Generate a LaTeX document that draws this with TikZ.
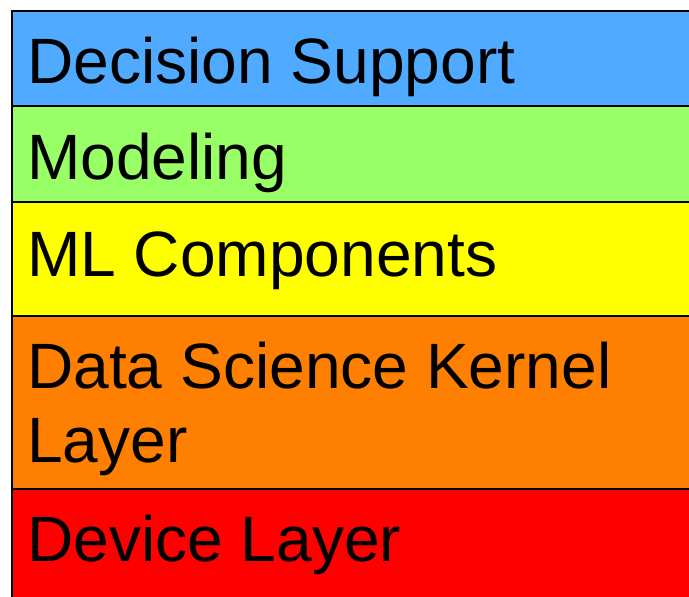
\documentclass[tikz,border=0pt]{standalone}
\usepackage{fontspec}
\setmainfont{Liberation Sans}
\definecolor{dsblue}{RGB}{80,170,255}
\definecolor{mgreen}{RGB}{153,255,102}
\definecolor{mlyellow}{RGB}{255,255,0}
\definecolor{kernorange}{RGB}{255,128,0}
\definecolor{devred}{RGB}{255,0,0}
\tikzset{
  layerbox/.style={draw=black, line width=2pt},
  layertext/.style={anchor=base west, inner sep=0pt, font=\fontsize{64.1}{74}\selectfont, text=black}
}
\begin{document}
\begin{tikzpicture}[x=1pt,y=-1pt]
\useasboundingbox (0,0) rectangle (689,597);
\clip (0,0) rectangle (689,597);
\fill[white] (0,0) rectangle (689,597);
\draw[layerbox, fill=dsblue] (12,11) rectangle (700,106);
\draw[layerbox, fill=mgreen] (12,106) rectangle (700,202);
\draw[layerbox, fill=mlyellow] (12,202) rectangle (700,316);
\draw[layerbox, fill=kernorange] (12,316) rectangle (700,489);
\draw[layerbox, fill=devred] (12,489) rectangle (700,620);
\node[layertext] (t1) at (27,83) {Decision Support};
\node[layertext] (t2) at (27,179) {Modeling};
\node[layertext] (t3) at (27,276) {ML Components};
\node[layertext] (t4a) at (27,388) {Data Science Kernel};
\node[layertext] (t4b) at (27,462) {Layer};
\node[layertext] (t5) at (27,561) {Device Layer};
\end{tikzpicture}
\end{document}
